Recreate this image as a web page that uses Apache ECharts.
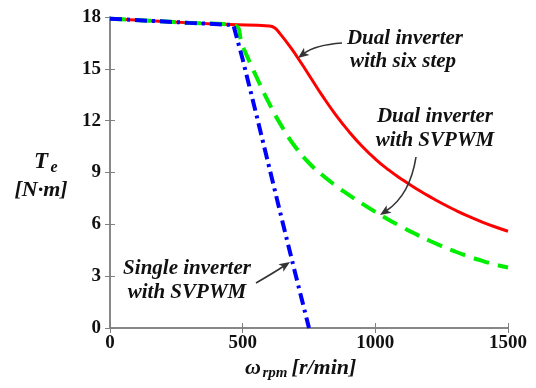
<!DOCTYPE html>
<html>
<head>
<meta charset="utf-8">
<script src="https://cdn.jsdelivr.net/npm/echarts@6/dist/echarts.min.js"></script>
<style>html,body{margin:0;padding:0;background:#fff}#c{width:536px;height:388px}</style>
</head>
<body>
<div id="c"></div>
<script>
// ---- data ----
const xTicks = [0, 500, 1000, 1500];
const yTicks = [0, 3, 6, 9, 12, 15, 18];

const rpmSixStep   = [0, 150, 300, 450, 600, 620, 640, 680, 720, 760, 800, 850, 900, 950, 1000, 1050, 1100, 1150, 1200, 1250, 1300, 1350, 1400, 1450, 1500];
const torqueSixStep= [17.9, 17.78, 17.66, 17.56, 17.48, 17.38, 17.05, 16.25, 15.35, 14.4, 13.45, 12.35, 11.38, 10.52, 9.78, 9.15, 8.6, 8.1, 7.65, 7.22, 6.83, 6.47, 6.15, 5.86, 5.6];

const rpmDualSV    = [0, 150, 300, 464, 500, 550, 600, 650, 700, 750, 800, 850, 900, 950, 1000, 1050, 1100, 1150, 1200, 1250, 1300, 1350, 1400, 1450, 1500];
const torqueDualSV = [17.9, 17.78, 17.66, 17.54, 16.3, 14.6, 13.0, 11.6, 10.45, 9.55, 8.85, 8.25, 7.7, 7.2, 6.72, 6.27, 5.85, 5.45, 5.08, 4.74, 4.43, 4.15, 3.9, 3.68, 3.5];

const rpmSingleSV    = [0, 150, 300, 465, 500, 550, 600, 650, 700, 750];
const torqueSingleSV = [17.9, 17.78, 17.66, 17.54, 15.55, 12.45, 9.3, 6.15, 3.05, 0];

const zip = (a, b) => a.map((v, i) => [v, b[i]]);

// ---- chart ----
const chart = echarts.init(document.getElementById('c'), null, {renderer: 'canvas'});
const SERIF = '"Liberation Serif", "Times New Roman", serif';
const frame = '#808080';

function arrow(x0, y0, cx, cy, x1, y1) {
  const ang = Math.atan2(y1 - cy, x1 - cx);
  const L = 11, W = 4.5;
  const bx = x1 - L * Math.cos(ang), by = y1 - L * Math.sin(ang);
  const px = -Math.sin(ang) * W, py = Math.cos(ang) * W;
  return [
    {type: 'bezierCurve', shape: {x1: x0, y1: y0, cpx1: cx, cpy1: cy, x2: bx + (x1 - bx) * 0.3, y2: by + (y1 - by) * 0.3},
     style: {stroke: '#333', lineWidth: 1.6, fill: null}, z: 100},
    {type: 'polygon', shape: {points: [[x1, y1], [bx + px, by + py], [bx + (x1 - bx) * 0.25, by + (y1 - by) * 0.25], [bx - px, by - py]]},
     style: {fill: '#333'}, z: 100}
  ];
}

function label(text, x, y, size, extra) {
  return Object.assign({type: 'text', x: x, y: y, z: 100,
    style: {text: text, font: 'italic bold ' + size + 'px ' + SERIF, fill: '#111',
            textAlign: 'center', textVerticalAlign: 'middle'}}, extra || {});
}

const option = {
  backgroundColor: '#fff',
  animation: false,
  grid: {left: 110, right: 28, top: 17, bottom: 60},
  xAxis: [
    {type: 'value', min: 0, max: 1500, interval: 500, position: 'bottom',
     axisLine: {show: true, lineStyle: {color: frame, width: 1.5}},
     axisTick: {show: true, inside: true, length: 5, lineStyle: {color: frame}},
     splitLine: {show: false},
     axisLabel: {margin: 6, color: '#111', fontFamily: SERIF, fontWeight: 'bold', fontSize: 19,
                 formatter: v => String(v)}},
    {type: 'value', min: 0, max: 1500, interval: 500, position: 'top',
     axisLine: {show: true, lineStyle: {color: frame, width: 1.5}},
     axisTick: {show: true, inside: true, length: 5, lineStyle: {color: frame}},
     splitLine: {show: false}, axisLabel: {show: false}}
  ],
  yAxis: [
    {type: 'value', min: 0, max: 18, interval: 3, position: 'left',
     axisLine: {show: true, lineStyle: {color: frame, width: 1.5}},
     axisTick: {show: true, inside: true, length: 5, lineStyle: {color: frame}},
     splitLine: {show: false},
     axisLabel: {margin: 9, color: '#111', fontFamily: SERIF, fontWeight: 'bold', fontSize: 19,
                 formatter: v => String(v)}},
    {type: 'value', min: 0, max: 18, interval: 3, position: 'right',
     axisLine: {show: true, lineStyle: {color: frame, width: 1.5}},
     axisTick: {show: true, inside: true, length: 5, lineStyle: {color: frame}},
     splitLine: {show: false}, axisLabel: {show: false}}
  ],
  series: [
    {name: 'Dual inverter with six step', type: 'line', data: zip(rpmSixStep, torqueSixStep),
     showSymbol: false, smooth: 0.5, z: 3,
     lineStyle: {color: '#ff0000', width: 3}},
    {name: 'Dual inverter with SVPWM', type: 'line', data: zip(rpmDualSV, torqueDualSV),
     showSymbol: false, smooth: 0.5, z: 4,
     lineStyle: {color: '#00ee00', width: 4, type: [16, 9]}},
    {name: 'Single inverter with SVPWM', type: 'line', data: zip(rpmSingleSV, torqueSingleSV),
     showSymbol: false, smooth: false, z: 5,
     lineStyle: {color: '#0000ff', width: 4, type: [12, 5, 3, 5]}}
  ],
  graphic: [
    label('Dual inverter', 405, 39, 21),
    label('with six step', 403, 62, 21),
    label('Dual inverter', 435, 117, 21),
    label('with SVPWM', 435, 141, 21),
    label('Single inverter', 187, 269, 21),
    label('with SVPWM', 187, 293, 21),
    ...arrow(342, 43, 315, 45, 298, 58),
    ...arrow(416, 157, 410, 195, 380, 215),
    ...arrow(256, 283, 275, 272, 290, 262),
    // y-axis title
    label('T', 41, 162, 23),
    label('e', 54, 168, 16),
    label('[N\u00b7m]', 41, 190, 22),
    // x-axis title
    label('\u03c9', 253, 368, 22),
    label('rpm', 275, 373, 15),
    label('[r/min]', 324, 368, 22)
  ]
};
chart.setOption(option);
</script>
</body>
</html>
